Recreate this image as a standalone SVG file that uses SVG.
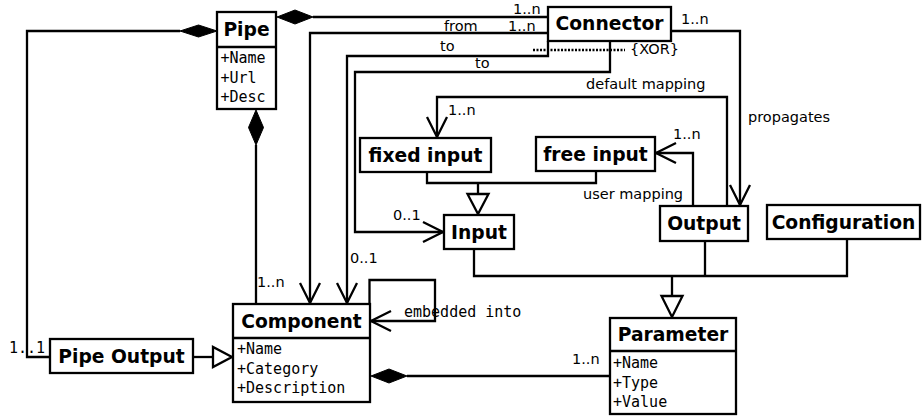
<svg xmlns="http://www.w3.org/2000/svg" width="923" height="416" viewBox="0 0 923 416">
<defs>
<style>
.box{fill:#fff;stroke:#000;stroke-width:2.3}
.ln{fill:none;stroke:#000;stroke-width:2.3}
.dot{fill:none;stroke:#000;stroke-width:2.3;stroke-dasharray:2 1.5}
.dia{fill:#000;stroke:#000;stroke-width:1}
.tri{fill:#fff;stroke:#000;stroke-width:2.3}
.title{font-family:"DejaVu Sans",sans-serif;font-weight:bold;font-size:18.7px;text-anchor:middle}
.attr{font-family:"DejaVu Sans Mono",monospace;font-size:15px}
.lab{font-family:"DejaVu Sans",sans-serif;font-size:14.5px}
.mono{font-family:"DejaVu Sans Mono",monospace;font-size:15px}
</style>
<marker id="open" markerUnits="userSpaceOnUse" markerWidth="26" markerHeight="26" viewBox="-23 -13 26 26" refX="0" refY="0" orient="auto" overflow="visible">
<path d="M-20,-10 L0,0 L-20,10" fill="none" stroke="#000" stroke-width="2.3"/>
</marker>
</defs>
<rect width="923" height="416" fill="#fff"/>

<g id="connectors">
<!-- Pipe left composition to Pipe Output -->
<polyline class="ln" points="180,31 27,31 27,357 50,357"/>
<polygon class="dia" points="217,31 198.5,25 180,31 198.5,37"/>
<!-- Pipe - Connector composition -->
<polyline class="ln" points="313,17 548,17"/>
<polygon class="dia" points="277,17 295,10 313,17 295,24"/>
<!-- from -->
<polyline class="ln" points="548,33 310,33 310,303" marker-end="url(#open)"/>
<!-- to 1 -->
<polyline class="ln" points="548,41 548,56 347,56 347,303" marker-end="url(#open)"/>
<!-- to 2 -->
<polyline class="ln" points="610,41 610,72 355,72 355,232 443,232" marker-end="url(#open)"/>
<!-- XOR -->
<line class="dot" x1="533" y1="50" x2="625" y2="50"/>
<!-- propagates -->
<polyline class="ln" points="671,31 740,31 740,205" marker-end="url(#open)"/>
<!-- default mapping -->
<polyline class="ln" points="727,206 727,97 437,97 437,137" marker-end="url(#open)"/>
<!-- user mapping -->
<polyline class="ln" points="693,206 693,153 656,153" marker-end="url(#open)"/>
<!-- generalization fixed/free -> Input -->
<polyline class="ln" points="427,172 427,183 596,183 596,171"/>
<line class="ln" x1="478" y1="183" x2="478" y2="194"/>
<polygon class="tri" points="467.5,194 488.5,194 478,214"/>
<!-- generalization Input/Output/Configuration -> Parameter -->
<polyline class="ln" points="474,249 474,276 847,276 847,239"/>
<line class="ln" x1="705" y1="241" x2="705" y2="276"/>
<line class="ln" x1="672" y1="276" x2="672" y2="296"/>
<polygon class="tri" points="661.5,296 682.5,296 672,317"/>
<!-- Pipe -> Component composition -->
<line class="ln" x1="256" y1="145" x2="256" y2="304"/>
<polygon class="dia" points="256,110 263.5,127.5 256,145 248.5,127.5"/>
<!-- embedded into self association -->
<polyline class="ln" points="369.5,304 369.5,280 435,280 435,321 371,321" marker-end="url(#open)"/>
<!-- Parameter -> Component composition -->
<line class="ln" x1="407" y1="376" x2="610" y2="376"/>
<polygon class="dia" points="371,376 389,369 407,376 389,383"/>
<!-- Pipe Output -> Component generalization -->
<line class="ln" x1="193" y1="357" x2="213" y2="357"/>
<polygon class="tri" points="213,347 213,367 232,357"/>
</g>

<g id="labels">
<text class="lab" x="513" y="14">1..n</text>
<text class="lab" x="444" y="31">from</text>
<text class="lab" x="508" y="31">1..n</text>
<text class="lab" x="440" y="51">to</text>
<text class="lab" x="475" y="68">to</text>
<text class="lab" x="630" y="54">{XOR}</text>
<text class="lab" x="681" y="24">1..n</text>
<text class="lab" x="586" y="89">default mapping</text>
<text class="lab" x="748" y="122">propagates</text>
<text class="lab" x="448" y="115">1..n</text>
<text class="lab" x="673" y="139">1..n</text>
<text class="lab" x="583" y="199">user mapping</text>
<text class="lab" x="393" y="220">0..1</text>
<text class="lab" x="350" y="263">0..1</text>
<text class="lab" x="257" y="287">1..n</text>
<text class="mono" x="404" y="317">embedded into</text>
<text class="lab" x="572" y="364">1..n</text>
<text class="mono" x="9" y="353">1..1</text>
</g>

<g id="pipe">
<rect class="box" x="217" y="12" width="59" height="97"/>
<line class="ln" x1="217" y1="47" x2="276" y2="47"/>
<text class="title" x="246.5" y="36">Pipe</text>
<text class="attr" x="220.5" y="63">+Name</text>
<text class="attr" x="220.5" y="82.5">+Url</text>
<text class="attr" x="220.5" y="102">+Desc</text>
</g>

<g id="connector">
<rect class="box" x="548" y="7" width="123" height="34"/>
<text class="title" x="609.5" y="30">Connector</text>
</g>

<g id="fixed-input">
<rect class="box" x="360" y="138" width="131" height="34"/>
<text class="title" x="425.5" y="161.5">fixed input</text>
</g>

<g id="free-input">
<rect class="box" x="536" y="137" width="119" height="34"/>
<text class="title" x="595.5" y="160.5">free input</text>
</g>

<g id="input">
<rect class="box" x="444" y="215" width="70" height="34"/>
<text class="title" x="479" y="238.5">Input</text>
</g>

<g id="output">
<rect class="box" x="660" y="206" width="88" height="35"/>
<text class="title" x="704" y="230">Output</text>
</g>

<g id="configuration">
<rect class="box" x="767" y="205" width="153" height="34"/>
<text class="title" x="843.5" y="228.5">Configuration</text>
</g>

<g id="component">
<rect class="box" x="233" y="304" width="137" height="98"/>
<line class="ln" x1="233" y1="338" x2="370" y2="338"/>
<text class="title" x="301.5" y="327.5">Component</text>
<text class="attr" x="237" y="354">+Name</text>
<text class="attr" x="237" y="373.5">+Category</text>
<text class="attr" x="237" y="393">+Description</text>
</g>

<g id="pipe-output">
<rect class="box" x="50" y="339" width="143" height="34"/>
<text class="title" x="121.5" y="362.5">Pipe Output</text>
</g>

<g id="parameter">
<rect class="box" x="610" y="318" width="126" height="96"/>
<line class="ln" x1="610" y1="351" x2="736" y2="351"/>
<text class="title" x="673" y="341">Parameter</text>
<text class="attr" x="613" y="368">+Name</text>
<text class="attr" x="613" y="387.5">+Type</text>
<text class="attr" x="613" y="407">+Value</text>
</g>
</svg>
